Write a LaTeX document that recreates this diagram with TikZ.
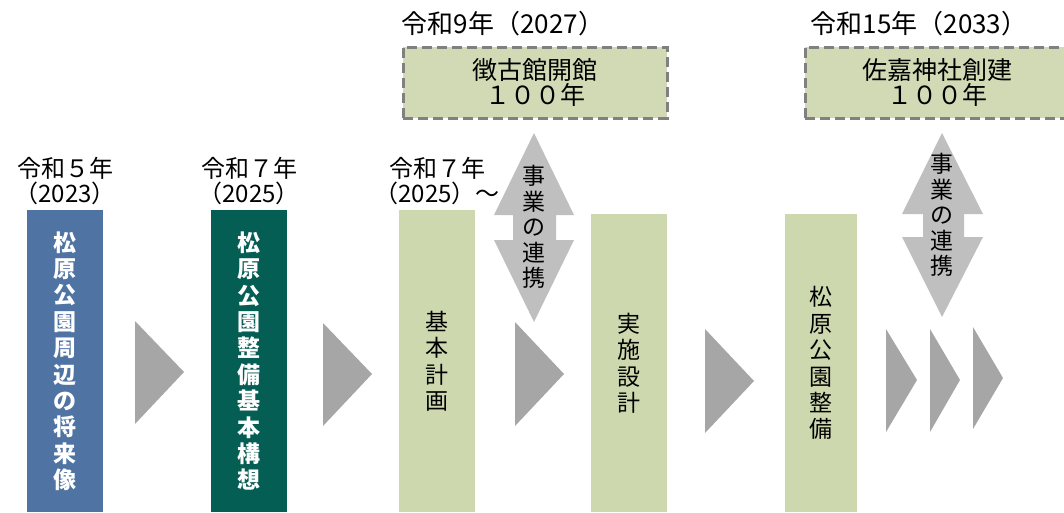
\documentclass[tikz,border=0pt]{standalone}
\usepackage{fontspec}
\setmainfont{Noto Sans CJK JP}
\definecolor{ParkBlue}{RGB}{79, 115, 163}
\definecolor{ParkGreen}{RGB}{5, 94, 84}
\definecolor{PlanGreen}{RGB}{205, 216, 174}
\definecolor{EventGreen}{RGB}{210, 218, 181}
\definecolor{DashGray}{RGB}{128, 128, 128}
\definecolor{StepGray}{RGB}{166, 166, 166}
\definecolor{LinkGray}{RGB}{191, 191, 191}
\usetikzlibrary{positioning}

\begin{document}
\begin{tikzpicture}[
            x=1pt, y=-1pt,
            stage/.style={rectangle, anchor=north, minimum width=76pt, inner sep=0pt,
                          align=center, font=\fontsize{23}{26.4}\selectfont},
            vision/.style={stage, fill=ParkBlue, text=white, font=\bfseries\fontsize{23}{26.4}\selectfont},
            concept/.style={stage, fill=ParkGreen, text=white, font=\bfseries\fontsize{23}{26.4}\selectfont},
            plan/.style={stage, fill=PlanGreen},
            event/.style={rectangle, draw=DashGray, fill=EventGreen, line width=3pt,
                          dash pattern=on 10pt off 5pt, minimum width=264pt, minimum height=71pt,
                          align=center, font=\fontsize{25}{25}\selectfont},
            yearlabel/.style={align=center, inner sep=0pt, font=\fontsize{24}{25}\selectfont},
            toplabel/.style={yearlabel, font=\fontsize{26}{26}\selectfont},
            linktext/.style={align=center, inner sep=0pt, font=\fontsize{23}{25.5}\selectfont},
            chev/.style={fill=StepGray},
            link/.style={fill=LinkGray}
        ]
            \useasboundingbox (0,0) rectangle (1064,512);

            % stages
            \node[vision, minimum height=302pt] (vision) at (65,210) {松\\原\\公\\園\\周\\辺\\の\\将\\来\\像};
            \node[concept, minimum height=302pt] (concept) at (249,210) {松\\原\\公\\園\\整\\備\\基\\本\\構\\想};
            \node[plan, minimum height=302pt] (basic) at (437,210) {基\\本\\計\\画};
            \node[plan, minimum height=298pt] (design) at (629,214) {実\\施\\設\\計};
            \node[plan, minimum width=72pt, minimum height=298pt] (works) at (821,214) {松\\原\\公\\園\\整\\備};

            \node[yearlabel, above=5pt of vision] (y2023) {令和５年\\（2023）};
            \node[yearlabel, above=5pt of concept] (y2025) {令和７年\\（2025）};
            \node[yearlabel, above=5pt of basic] (y2025on) {令和７年\\（2025）～};

            % anniversaries
            \node[event] (museum) at (535,82.5) {徴古館開館\\１００年};
            \node[event] (shrine) at (937,82.5) {佐嘉神社創建\\１００年};
            \node[toplabel] (y2027) at (503,24) {令和9年（2027）};
            \node[toplabel] (y2033) at (919,24) {令和15年（2033）};

            % steps
            \fill[chev] (135,321) -- (184,372) -- (135,424) -- cycle;
            \fill[chev] (323,323) -- (372,374) -- (323,426) -- cycle;
            \fill[chev] (515,322) -- (564,374) -- (515,426) -- cycle;
            \fill[chev] (705,329) -- (754,381) -- (705,433) -- cycle;
            \fill[chev] (886,329) -- (917,380) -- (886,432) -- cycle;
            \fill[chev] (930,329) -- (960,380) -- (930,432) -- cycle;
            \fill[chev] (973,327) -- (1003,378) -- (973,429) -- cycle;

            % links
            \fill[link] (534,133) -- (574,215) -- (556,215) -- (556,240) -- (574,240) -- (534,322)
                -- (494,240) -- (513,240) -- (513,215) -- (494,215) -- cycle;
            \node[linktext] (link1) at (534,227) {事\\業\\の\\連\\携};
            \fill[link] (942,133) -- (983,214) -- (964,214) -- (964,237) -- (983,237) -- (942,317)
                -- (902,237) -- (923,237) -- (923,214) -- (902,214) -- cycle;
            \node[linktext] (link2) at (942,215) {事\\業\\の\\連\\携};
        \end{tikzpicture}
\end{document}
